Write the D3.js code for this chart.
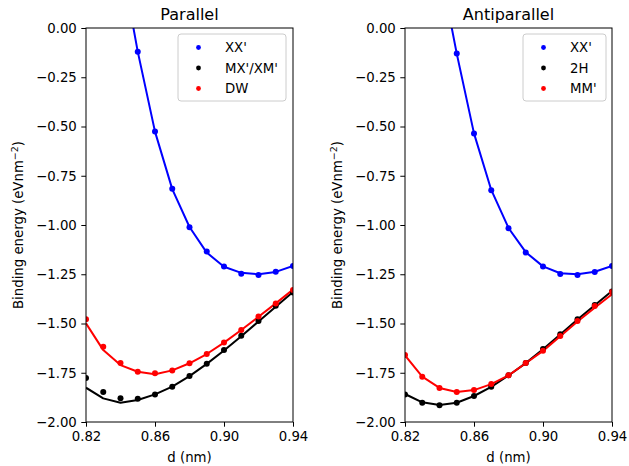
<!DOCTYPE html>
<html>
<head>
<meta charset="utf-8">
<script src="https://cdn.jsdelivr.net/npm/d3@7"></script>
<style>
  body { margin: 0; background: #fff; }
  svg { font-family: "DejaVu Sans", sans-serif; }
</style>
</head>
<body>
<div id="chart"></div>
<script>
// interlayer distance grid (nm)
const dValues = [0.82, 0.83, 0.84, 0.85, 0.86, 0.87, 0.88, 0.89, 0.90, 0.91, 0.92, 0.93, 0.94];

// Parallel stacking: computed points (null = outside the plotted range)
const parXX = [null, null, null, -0.12, -0.526, -0.816, -1.012, -1.135, -1.211, -1.247, -1.254, -1.237, -1.208];
const parMX = [-1.777, -1.848, -1.880, -1.882, -1.860, -1.821, -1.766, -1.704, -1.635, -1.562, -1.487, -1.410, -1.343];
const parDW = [-1.479, -1.618, -1.701, -1.745, -1.753, -1.738, -1.702, -1.655, -1.596, -1.533, -1.465, -1.398, -1.330];
// Parallel stacking: fitted curves
const parXXFit = [null, null, 0.36, -0.12, -0.526, -0.818, -1.010, -1.140, -1.212, -1.243, -1.250, -1.238, -1.208];
const parMXFit = [-1.826, -1.880, -1.902, -1.888, -1.860, -1.820, -1.767, -1.705, -1.637, -1.565, -1.490, -1.415, -1.340];
const parDWFit = [-1.499, -1.635, -1.711, -1.745, -1.758, -1.738, -1.702, -1.655, -1.597, -1.533, -1.466, -1.398, -1.328];

// Antiparallel stacking: computed points
const antiXX = [null, null, null, -0.13, -0.535, -0.824, -1.017, -1.140, -1.211, -1.249, -1.254, -1.239, -1.208];
const anti2H = [-1.860, -1.902, -1.915, -1.902, -1.868, -1.821, -1.763, -1.701, -1.630, -1.555, -1.479, -1.406, -1.338];
const antiMM = [-1.660, -1.770, -1.827, -1.848, -1.838, -1.807, -1.763, -1.701, -1.638, -1.563, -1.487, -1.411, -1.340];
// Antiparallel stacking: fitted curves
const antiXXFit = [null, null, 0.32, -0.13, -0.535, -0.822, -1.015, -1.138, -1.210, -1.245, -1.250, -1.237, -1.208];
const anti2HFit = [-1.858, -1.900, -1.914, -1.902, -1.868, -1.822, -1.764, -1.701, -1.631, -1.556, -1.480, -1.407, -1.335];
const antiMMFit = [-1.662, -1.770, -1.827, -1.848, -1.838, -1.808, -1.763, -1.702, -1.639, -1.565, -1.490, -1.420, -1.352];

const xTicks = [0.82, 0.86, 0.90, 0.94];
const yTicks = [0, -0.25, -0.5, -0.75, -1.0, -1.25, -1.5, -1.75, -2.0];

const panels = [
  {
    title: 'Parallel', left: 86,
    series: [
      { label: "XX'", color: '#0000ff', pts: parXX, fit: parXXFit },
      { label: "MX'/XM'", color: '#000000', pts: parMX, fit: parMXFit },
      { label: 'DW', color: '#ff0000', pts: parDW, fit: parDWFit }
    ],
    legend: { x: 178, w: 108 }
  },
  {
    title: 'Antiparallel', left: 405,
    series: [
      { label: "XX'", color: '#0000ff', pts: antiXX, fit: antiXXFit },
      { label: '2H', color: '#000000', pts: anti2H, fit: anti2HFit },
      { label: "MM'", color: '#ff0000', pts: antiMM, fit: antiMMFit }
    ],
    legend: { x: 523, w: 83 }
  }
];

const width = 629, height = 466;
const marginTop = 28, plotH = 394, plotW = 207;

const svg = d3.select('#chart').append('svg')
  .attr('width', width)
  .attr('height', height);

panels.forEach((p, pi) => {
  const x = d3.scaleLinear().domain([0.82, 0.94]).range([0, plotW]);
  const y = d3.scaleLinear().domain([-2, 0]).range([plotH, 0]);

  const g = svg.append('g').attr('transform', `translate(${p.left},${marginTop})`);

  const clipId = `clip-${pi}`;
  g.append('clipPath').attr('id', clipId)
    .append('rect').attr('width', plotW).attr('height', plotH);

  // axes
  const xAxis = g.append('g')
    .attr('transform', `translate(0,${plotH})`)
    .call(d3.axisBottom(x).tickValues(xTicks).tickFormat(d3.format('.2f')).tickSizeOuter(0).tickSize(4.7).tickPadding(4.5));
  const yAxis = g.append('g')
    .call(d3.axisLeft(y).tickValues(yTicks).tickFormat(d3.format('.2f')).tickSizeOuter(0).tickSize(4.7).tickPadding(4.5));
  [xAxis, yAxis].forEach(a => {
    a.select('.domain').remove();
    a.selectAll('text').style('font-size', '13.3px').attr('fill', '#000')
      .style('font-family', '"DejaVu Sans", sans-serif');
    a.selectAll('line').attr('stroke', '#000').attr('stroke-width', 1);
  });

  // data
  const plotArea = g.append('g').attr('clip-path', `url(#${clipId})`);
  p.series.forEach(s => {
    const fitData = dValues.map((d, i) => ({ d, v: s.fit[i] })).filter(e => e.v !== null);
    plotArea.append('path')
      .datum(fitData)
      .attr('fill', 'none')
      .attr('stroke', s.color)
      .attr('stroke-width', 2)
      .attr('stroke-linejoin', 'round')
      .attr('d', d3.line().x(e => x(e.d)).y(e => y(e.v)));
  });
  p.series.forEach(s => {
    const ptData = dValues.map((d, i) => ({ d, v: s.pts[i] })).filter(e => e.v !== null);
    plotArea.append('g').selectAll('circle')
      .data(ptData)
      .enter()
      .append('circle')
      .attr('cx', e => x(e.d))
      .attr('cy', e => y(e.v))
      .attr('r', 3)
      .attr('fill', s.color);
  });

  // frame
  g.append('rect')
    .attr('width', plotW).attr('height', plotH)
    .attr('fill', 'none').attr('stroke', '#000').attr('stroke-width', 1);

  // title
  g.append('text')
    .attr('x', plotW / 2).attr('y', -8)
    .attr('text-anchor', 'middle')
    .style('font-size', '16px')
    .text(p.title);

  // axis labels
  g.append('text')
    .attr('x', plotW / 2).attr('y', plotH + 40)
    .attr('text-anchor', 'middle')
    .style('font-size', '13.3px')
    .text('d (nm)');

  const yl = g.append('text')
    .attr('transform', `translate(-63,${plotH / 2}) rotate(-90)`)
    .attr('text-anchor', 'middle')
    .style('font-size', '13.3px');
  yl.append('tspan').text('Binding energy (eVnm');
  yl.append('tspan').attr('dy', -5).style('font-size', '9.5px').text('−2');
  yl.append('tspan').attr('dy', 5).text(')');

  // legend
  const lg = svg.append('g').attr('transform', `translate(${p.legend.x},34)`);
  lg.append('rect')
    .attr('width', p.legend.w).attr('height', 67)
    .attr('rx', 3)
    .attr('fill', '#fff').attr('fill-opacity', 0.8)
    .attr('stroke', '#cccccc').attr('stroke-width', 1);
  const items = lg.selectAll('g.item')
    .data(p.series)
    .enter()
    .append('g')
    .attr('class', 'item')
    .attr('transform', (s, i) => `translate(0,${13.5 + i * 20.5})`);
  items.append('circle')
    .attr('cx', 20.5).attr('cy', 0).attr('r', 2.4)
    .attr('fill', s => s.color);
  items.append('text')
    .attr('x', 47).attr('y', 0).attr('dy', '0.35em')
    .style('font-size', '13.3px')
    .text(s => s.label);
});
</script>
</body>
</html>
